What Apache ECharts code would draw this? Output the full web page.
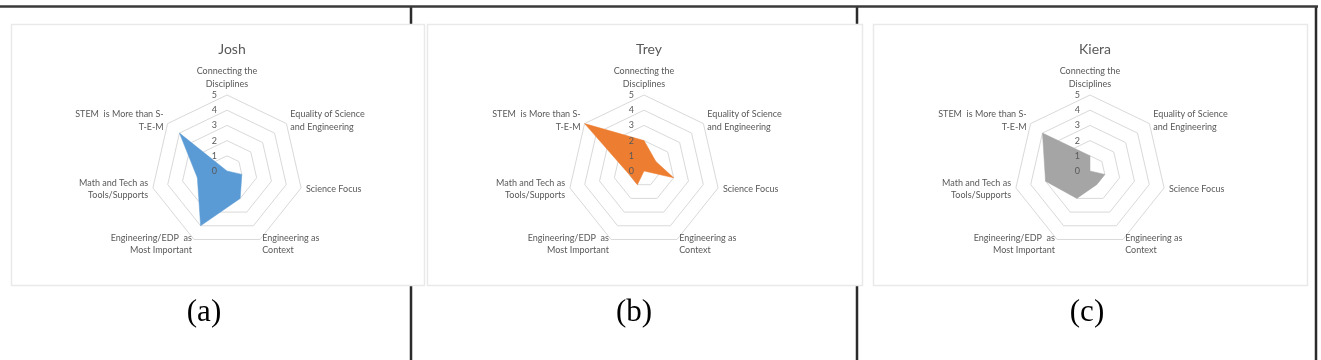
<!DOCTYPE html>
<html>
<head>
<meta charset="utf-8">
<script src="https://cdn.jsdelivr.net/npm/echarts@6/dist/echarts.min.js"></script>
<style>
html,body{margin:0;padding:0;background:#fff;}
#main{width:1321px;height:360px;}
</style>
</head>
<body>
<div id="main"></div>
<script>
// ---- data (listed clockwise from the top, as in the reference) ----
const categories = [
  'Connecting the\nDisciplines',
  'Equality of Science\nand Engineering',
  'Science Focus',
  'Engineering as\nContext',
  'Engineering/EDP  as\nMost Important',
  'Math and Tech as\nTools/Supports',
  'STEM  is More than S-\nT-E-M'
];
const people = ['Josh', 'Trey', 'Kiera'];
const panelTags = ['(a)', '(b)', '(c)'];
const joshValues = [0, 0, 1, 2, 4, 2, 4];
const treyValues = [2, 1, 2, 0, 1, 1, 5];
const kieraValues = [1, 0, 1, 1, 2, 3, 4];
const axisMax = 5;
const fillColors = ['#5b9bd5', '#ed7d31', '#a5a5a5'];

// ECharts lays radar indicators counter-clockwise; reorder so they read clockwise.
const order = [0, 6, 5, 4, 3, 2, 1];
const reorder = arr => order.map(i => arr[i]);

// ---- layout (styles only) ----
const centersX = [227, 644, 1090];
const centerY = 171;
const radius = 76;
const boxes = [[11, 24, 413, 261], [427, 24, 435, 261], [873, 24, 434, 261]];
const cellCenters = [204, 634, 1087];
const vLines = [411, 857, 1316];

const allValues = [joshValues, treyValues, kieraValues];
const textColor = '#595959';

function makeRadar(k, overlay) {
  return {
    center: [centersX[k], centerY],
    radius: radius,
    startAngle: 90,
    shape: 'polygon',
    splitNumber: 5,
    nameGap: 5,
    z: overlay ? 6 : 0,
    silent: true,
    indicator: reorder(categories).map((c, i) => ({
      name: c, min: 0, max: axisMax,
      axisLabel: (overlay && i === 0)
        ? {show: true, color: textColor, fontSize: 9, fontFamily: 'Lato', margin: 10}
        : {show: false}
    })),
    axisName: overlay
      ? {show: false}
      : {color: textColor, fontSize: 9, fontFamily: 'Lato', lineHeight: 12.5},
    splitLine: {show: !overlay, lineStyle: {color: '#d9d9d9', width: 1}},
    splitArea: {show: false},
    axisLine: {show: false},
    axisTick: {show: false},
    axisLabel: {show: false}
  };
}

// radars 0..2: rings + names (below fills); radars 3..5: tick labels only (above fills)
const radars = people.map((p, k) => makeRadar(k, false))
  .concat(people.map((p, k) => makeRadar(k, true)));

const series = people.map((p, k) => ({
  type: 'radar',
  radarIndex: k,
  symbol: 'none',
  z: 3,
  lineStyle: {width: 0.5, color: fillColors[k]},
  areaStyle: {color: fillColors[k], opacity: 1},
  itemStyle: {color: fillColors[k]},
  data: [{value: reorder(allValues[k]), name: p}]
}));

const titles = people.map((p, k) => ({
  text: p,
  left: centersX[k],
  top: 37,
  textAlign: 'center',
  textStyle: {color: textColor, fontSize: 14, fontWeight: 'normal', fontFamily: 'Lato'}
}));

const graphics = [];
vLines.forEach(x => graphics.push({
  type: 'line', z: -10, silent: true,
  shape: {x1: x, y1: 6, x2: x, y2: 360},
  style: {stroke: '#2b2b2b', lineWidth: 2.5}
}));
graphics.push({
  type: 'line', z: 10, silent: true,
  shape: {x1: 0, y1: 6.5, x2: 1318, y2: 6.5},
  style: {stroke: '#3a3a3a', lineWidth: 2.5}
});
boxes.forEach(b => graphics.push({
  type: 'rect', z: -5, silent: true,
  shape: {x: b[0] + 0.5, y: b[1] + 0.5, width: b[2], height: b[3]},
  style: {fill: '#ffffff', stroke: '#e9e9e9', lineWidth: 1.5}
}));
panelTags.forEach((t, k) => graphics.push({
  type: 'text', z: 10, silent: true,
  x: cellCenters[k], y: 313,
  style: {text: t, fill: '#000', font: '31px "Liberation Serif"', align: 'center', verticalAlign: 'middle'}
}));

const chart = echarts.init(document.getElementById('main'), null, {renderer: 'canvas'});
chart.setOption({
  backgroundColor: '#ffffff',
  animation: false,
  title: titles,
  radar: radars,
  series: series,
  graphic: {elements: graphics}
});
</script>
</body>
</html>
